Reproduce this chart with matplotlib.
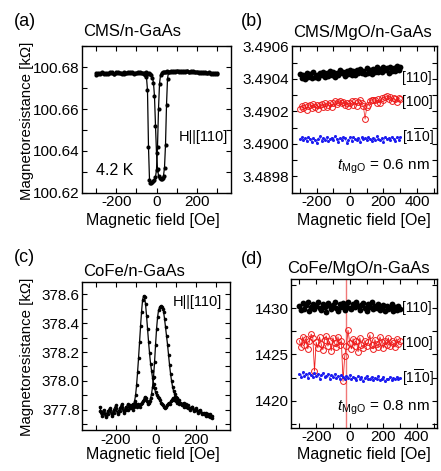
import matplotlib
matplotlib.use('Agg')
import matplotlib.pyplot as plt
from matplotlib.ticker import MultipleLocator, FormatStrFormatter
import numpy as np

plt.rcParams['font.family'] = ['Liberation Sans', 'DejaVu Sans']
plt.rcParams['mathtext.fontset'] = 'custom'
plt.rcParams['mathtext.rm'] = 'Liberation Sans'
plt.rcParams['mathtext.it'] = 'Liberation Sans:italic'
plt.rcParams['axes.unicode_minus'] = False

# ---------------- data ----------------
# (a) CMS/n-GaAs, field grid and two sweeps
field_a = list(range(-300, -60, 10)) + list(range(-60, 65, 5)) + list(range(70, 310, 10))
mr_a_sweep1 = [100.6765, 100.6772, 100.6768, 100.6775, 100.6770, 100.6766, 100.6774, 100.6771, 100.6777, 100.6769,
               100.6773, 100.6776, 100.6770, 100.6774, 100.6768, 100.6772, 100.6778, 100.6771, 100.6775, 100.6769,
               100.6773, 100.6776, 100.6770, 100.6772,
               100.6768, 100.6763, 100.6752, 100.6690, 100.6420, 100.6262, 100.6244, 100.6248, 100.6252, 100.6258,
               100.6262, 100.6275, 100.6310, 100.6420, 100.6600, 100.6720, 100.6762, 100.6772, 100.6778, 100.6776,
               100.6779, 100.6777, 100.6780, 100.6776, 100.6779,
               100.6781, 100.6777, 100.6780, 100.6783, 100.6778, 100.6781, 100.6779, 100.6784, 100.6780, 100.6777,
               100.6781, 100.6778, 100.6775, 100.6779, 100.6776, 100.6773, 100.6777, 100.6774, 100.6771, 100.6775,
               100.6772, 100.6768, 100.6773, 100.6770]
mr_a_sweep2 = [100.6770, 100.6767, 100.6774, 100.6771, 100.6766, 100.6773, 100.6769, 100.6775, 100.6772, 100.6768,
               100.6776, 100.6771, 100.6774, 100.6769, 100.6777, 100.6772, 100.6770, 100.6775, 100.6771, 100.6774,
               100.6770, 100.6773, 100.6776, 100.6771,
               100.6774, 100.6770, 100.6775, 100.6772, 100.6769, 100.6773, 100.6768, 100.6762, 100.6750, 100.6725,
               100.6660, 100.6520, 100.6390, 100.6315, 100.6282, 100.6270, 100.6264, 100.6266, 100.6270, 100.6282,
               100.6320, 100.6430, 100.6620, 100.6745, 100.6776,
               100.6779, 100.6782, 100.6778, 100.6780, 100.6784, 100.6779, 100.6782, 100.6778, 100.6781, 100.6779,
               100.6776, 100.6780, 100.6777, 100.6779, 100.6774, 100.6777, 100.6772, 100.6775, 100.6771, 100.6774,
               100.6769, 100.6772, 100.6768, 100.6766]

# (b) CMS/MgO/n-GaAs (field -300..300, step 10)
field_b = list(range(-300, 310, 10))
mr_b_110 = [3.490430, 3.490404, 3.490422, 3.490399, 3.490438, 3.490414, 3.490430, 3.490405, 3.490439, 3.490414,
            3.490426, 3.490404, 3.490436, 3.490422, 3.490442, 3.490413, 3.490436, 3.490418, 3.490449, 3.490424,
            3.490445, 3.490414, 3.490436, 3.490422, 3.490453, 3.490433, 3.490444, 3.490420, 3.490450, 3.490431,
            3.490455, 3.490426, 3.490446, 3.490422, 3.490453, 3.490438, 3.490458, 3.490435, 3.490447, 3.490431,
            3.490464, 3.490437, 3.490455, 3.490432, 3.490461, 3.490445, 3.490471, 3.490440, 3.490462, 3.490439,
            3.490470, 3.490452, 3.490466, 3.490438, 3.490471, 3.490450, 3.490464, 3.490447, 3.490479, 3.490455,
            3.490473]
mr_b_100 = [3.490212, 3.490235, 3.490219, 3.490242, 3.490211, 3.490232, 3.490242, 3.490220, 3.490248, 3.490226,
            3.490240, 3.490215, 3.490240, 3.490246, 3.490227, 3.490253, 3.490224, 3.490240, 3.490252, 3.490228,
            3.490250, 3.490261, 3.490245, 3.490258, 3.490266, 3.490250, 3.490258, 3.490240, 3.490254, 3.490233,
            3.490252, 3.490264, 3.490241, 3.490261, 3.490234, 3.490259, 3.490271, 3.490250, 3.490230, 3.490152,
            3.490228, 3.490242, 3.490262, 3.490271, 3.490272, 3.490268, 3.490253, 3.490274, 3.490249, 3.490280,
            3.490270, 3.490289, 3.490294, 3.490276, 3.490287, 3.490261, 3.490283, 3.490275, 3.490259, 3.490283,
            3.490273]
mr_b_1m10 = [3.490028, 3.490041, 3.490022, 3.490035, 3.490018, 3.490044, 3.490030, 3.490012, 3.490038, 3.490025,
             3.490005, 3.490033, 3.490046, 3.490020, 3.490036, 3.490027, 3.490042, 3.490015, 3.490031, 3.490039,
             3.490024, 3.490047, 3.490029, 3.490010, 3.490037, 3.490022, 3.490043, 3.490034, 3.490008, 3.490026,
             3.490040, 3.490019, 3.490045, 3.490032, 3.490023, 3.490038, 3.490014, 3.490041, 3.490028, 3.490035,
             3.490021, 3.490044, 3.490030, 3.490017, 3.490039, 3.490026, 3.490048, 3.490033, 3.490022, 3.490037,
             3.490013, 3.490042, 3.490029, 3.490036, 3.490024, 3.490045, 3.490031, 3.490020, 3.490040, 3.490027,
             3.490043]

# (c) CoFe/n-GaAs
field_c = list(range(-280, -120, 10)) + list(range(-120, 125, 5)) + list(range(130, 290, 10))
mr_c_sweep1 = [377.82, 377.78, 377.80, 377.76, 377.79, 377.81, 377.77, 377.80, 377.83, 377.78,
               377.81, 377.84, 377.79, 377.82, 377.80, 377.83,
               377.81, 377.84, 377.83, 377.86, 377.90, 377.97, 378.06, 378.16, 378.27, 378.38,
               378.48, 378.56, 378.59, 378.58, 378.53, 378.45, 378.36, 378.27, 378.19, 378.12,
               378.07, 378.02, 377.98, 377.95, 377.92,
               377.90, 377.89, 377.88, 377.87, 377.85, 377.84, 377.83, 377.82, 377.81, 377.82,
               377.83, 377.84, 377.85, 377.84, 377.86, 377.87, 377.88, 377.87, 377.89, 377.86,
               377.85, 377.87, 377.84, 377.85,
               377.83, 377.82, 377.84, 377.81, 377.80, 377.82, 377.79, 377.80, 377.78, 377.79,
               377.77, 377.78, 377.76, 377.77, 377.75, 377.76]
mr_c_sweep2 = [377.79, 377.76, 377.78, 377.75, 377.77, 377.80, 377.76, 377.78, 377.81, 377.77,
               377.79, 377.82, 377.78, 377.80, 377.84, 377.81,
               377.83, 377.80, 377.82, 377.85, 377.83, 377.82, 377.84, 377.83, 377.82, 377.84,
               377.85, 377.86, 377.87, 377.89, 377.88, 377.86, 377.84, 377.85, 377.86, 377.88,
               377.91, 377.96, 378.03, 378.13, 378.25,
               378.36, 378.44, 378.49, 378.51, 378.52, 378.51, 378.50, 378.48, 378.43, 378.37,
               378.31, 378.25, 378.18, 378.11, 378.05, 378.00, 377.96, 377.93, 377.91, 377.89,
               377.88, 377.86, 377.87, 377.85,
               377.84, 377.85, 377.82, 377.83, 377.81, 377.82, 377.80, 377.81, 377.79, 377.80,
               377.78, 377.77, 377.78, 377.76, 377.77, 377.74]

# (d) CoFe/MgO/n-GaAs (field -300..300, step 10)
field_d = list(range(-300, 310, 10))
mr_d_110 = [1430.2, 1429.8, 1430.5, 1429.9, 1430.3, 1430.6, 1429.7, 1430.1, 1430.4, 1429.9,
            1430.2, 1430.7, 1430.0, 1429.8, 1430.4, 1430.1, 1429.6, 1430.5, 1430.2, 1429.9,
            1430.3, 1430.6, 1430.0, 1429.7, 1430.4, 1430.1, 1430.5, 1429.8, 1430.2, 1430.6,
            1430.0, 1429.9, 1430.4, 1430.1, 1430.7, 1430.2, 1429.8, 1430.3, 1430.5, 1430.0,
            1429.7, 1430.4, 1430.1, 1430.6, 1429.9, 1430.2, 1430.0, 1430.4, 1429.8, 1430.1,
            1430.3, 1429.7, 1430.2, 1429.9, 1430.0, 1430.4, 1429.7, 1430.1, 1429.8, 1430.2,
            1429.9]
mr_d_100 = [1426.5, 1425.8, 1426.9, 1426.0, 1426.7, 1425.6, 1426.4, 1427.2, 1426.8, 1423.2,
            1426.3, 1425.7, 1426.9, 1426.1, 1425.5, 1426.6, 1427.0, 1425.9, 1426.4, 1425.4,
            1426.8, 1426.2, 1425.8, 1426.9, 1426.0, 1426.5, 1422.1, 1424.8, 1425.9, 1427.6,
            1426.2, 1425.6, 1426.7, 1425.9, 1426.4, 1425.3, 1426.8, 1426.0, 1425.7, 1426.5,
            1425.9, 1426.3, 1427.1, 1426.0, 1425.6, 1426.6, 1426.1, 1425.8, 1426.9, 1426.3,
            1425.7, 1426.5, 1426.0, 1426.8, 1425.9, 1426.4, 1426.2, 1425.8, 1426.7, 1426.1,
            1426.5]
mr_d_1m10 = [1422.9, 1422.6, 1423.1, 1422.7, 1422.9, 1422.5, 1423.0, 1422.8, 1422.6, 1423.0,
             1422.7, 1422.9, 1422.4, 1422.8, 1423.0, 1422.6, 1422.7, 1422.9, 1422.4, 1422.8,
             1422.6, 1422.9, 1422.5, 1422.7, 1422.3, 1422.8, 1422.6, 1422.4, 1422.7, 1422.5,
             1422.8, 1422.3, 1422.6, 1422.5, 1422.2, 1422.7, 1422.4, 1422.6, 1422.1, 1422.5,
             1422.7, 1422.3, 1422.4, 1422.6, 1422.2, 1422.5, 1422.3, 1422.7, 1422.2, 1422.4,
             1422.6, 1422.1, 1422.4, 1422.3, 1422.6, 1422.2, 1422.5, 1422.3, 1422.6, 1422.4,
             1422.5]
marker_field_d = -25

dir_labels = ['[110]', '[100]', r'[1$\overline{\mathrm{1}}$0]']

# ---------------- figure ----------------
W, H = 441, 471
fig = plt.figure(figsize=(W / 100, H / 100), dpi=100)


def px_axes(l, t, r, b):
    return fig.add_axes([l / W, 1 - b / H, (r - l) / W, (b - t) / H])


def fx(x):
    return x / W


def fy(y):
    return 1 - y / H


def style(ax, xmaj, xmin, ymaj, ymin, yfmt):
    ax.xaxis.set_major_locator(MultipleLocator(xmaj))
    ax.xaxis.set_minor_locator(MultipleLocator(xmin))
    ax.yaxis.set_major_locator(MultipleLocator(ymaj))
    ax.yaxis.set_minor_locator(MultipleLocator(ymin))
    ax.yaxis.set_major_formatter(FormatStrFormatter(yfmt))
    ax.xaxis.set_major_formatter(FormatStrFormatter('%d'))
    ax.tick_params(which='both', direction='in', top=True, right=True,
                   length=3.4, width=0.8, labelsize=11)
    ax.tick_params(axis='x', pad=2)
    ax.tick_params(axis='y', pad=1.5)
    for s in ax.spines.values():
        s.set_linewidth(1.0)


RED = '#ee1c1c'
BLUE = '#1c1cf0'

# (a)
ax_a = px_axes(82, 46.3, 231, 192.7)
for y in (mr_a_sweep1, mr_a_sweep2):
    ax_a.plot(field_a, y, '-o', color='black', lw=0.9, ms=3.0, mew=0)
ax_a.set_xlim(-372, 372)
ax_a.set_ylim(100.62, 100.69)
style(ax_a, 200, 100, 0.02, 0.01, '%.2f')
ax_a.text(112, 100.6465, 'H||[110]', fontsize=10.5, ha='left', va='center')
ax_a.text(-300, 100.6308, '4.2 K', fontsize=11.5, ha='left', va='center')

# (b)
ax_b = px_axes(291.5, 46.3, 437, 192.7)
ax_b.plot(field_b, mr_b_110, '-o', color='black', lw=0.5, ms=4.2, mew=0)
ax_b.plot(field_b, mr_b_100, '-o', color=RED, lw=0.5, ms=4.2, mfc='none', mew=0.7)
ax_b.plot(field_b, mr_b_1m10, '-o', color=BLUE, lw=0.4, ms=2.2, mew=0)
ax_b.set_xlim(-350, 520)
ax_b.set_ylim(3.4897, 3.4906)
style(ax_b, 200, 100, 0.0002, 0.0001, '%.4f')
for lab, yy in zip(dir_labels, [3.490407, 3.490258, 3.490045]):
    ax_b.text(308, yy, lab, fontsize=10, ha='left', va='center')
ax_b.text(475, 3.489856, r'$t_{\mathrm{MgO}}$ = 0.6 nm', fontsize=11, ha='right', va='center')

# (c)
ax_c = px_axes(82, 282.3, 229.5, 430)
for y in (mr_c_sweep1, mr_c_sweep2):
    ax_c.plot(field_c, y, '-o', color='black', lw=0.9, ms=2.6, mew=0)
ax_c.set_xlim(-368, 370)
ax_c.set_ylim(377.66, 378.683)
style(ax_c, 200, 100, 0.2, 0.1, '%.1f')
ax_c.text(84, 378.55, 'H||[110]', fontsize=10.5, ha='left', va='center')

# (d)
ax_d = px_axes(291, 279.3, 437, 427.7)
ax_d.axvline(marker_field_d, color='#f07878', lw=1.0, zorder=1.5)
ax_d.plot(field_d, mr_d_110, '-o', color='black', lw=0.5, ms=4.2, mew=0)
ax_d.plot(field_d, mr_d_100, '-o', color=RED, lw=0.6, ms=4.2, mfc='none', mew=0.7)
ax_d.plot(field_d, mr_d_1m10, '-o', color=BLUE, lw=0.4, ms=2.2, mew=0)
ax_d.set_xlim(-350, 520)
ax_d.set_ylim(1417.1, 1433.1)
style(ax_d, 200, 100, 5, 2.5, '%d')
for lab, yy in zip(dir_labels, [1430.0, 1426.2, 1422.45]):
    ax_d.text(312, yy, lab, fontsize=10, ha='left', va='center')
ax_d.text(475, 1419.2, r'$t_{\mathrm{MgO}}$ = 0.8 nm', fontsize=11, ha='right', va='center')

# panel letters and titles
fig.text(fx(14), fy(22), '(a)', fontsize=13, ha='left', va='center')
fig.text(fx(83), fy(32), 'CMS/n-GaAs', fontsize=12, ha='left', va='center')
fig.text(fx(241), fy(21), '(b)', fontsize=13, ha='left', va='center')
fig.text(fx(293), fy(32), 'CMS/MgO/n-GaAs', fontsize=12, ha='left', va='center')
fig.text(fx(14), fy(258), '(c)', fontsize=13, ha='left', va='center')
fig.text(fx(83), fy(271), 'CoFe/n-GaAs', fontsize=12, ha='left', va='center')
fig.text(fx(241), fy(259), '(d)', fontsize=13, ha='left', va='center')
fig.text(fx(287), fy(268), 'CoFe/MgO/n-GaAs', fontsize=12, ha='left', va='center')

# axis labels
fig.text(fx(27), fy(121), 'Magnetoresistance [kΩ]', fontsize=10.8, rotation=90, ha='center', va='center')
fig.text(fx(27), fy(357), 'Magnetoresistance [kΩ]', fontsize=10.8, rotation=90, ha='center', va='center')
fig.text(fx(153), fy(220), 'Magnetic field [Oe]', fontsize=11.5, ha='center', va='center')
fig.text(fx(364), fy(220), 'Magnetic field [Oe]', fontsize=11.5, ha='center', va='center')
fig.text(fx(153), fy(455), 'Magnetic field [Oe]', fontsize=11.5, ha='center', va='center')
fig.text(fx(364), fy(455), 'Magnetic field [Oe]', fontsize=11.5, ha='center', va='center')

fig.savefig('out.png', dpi=100)
